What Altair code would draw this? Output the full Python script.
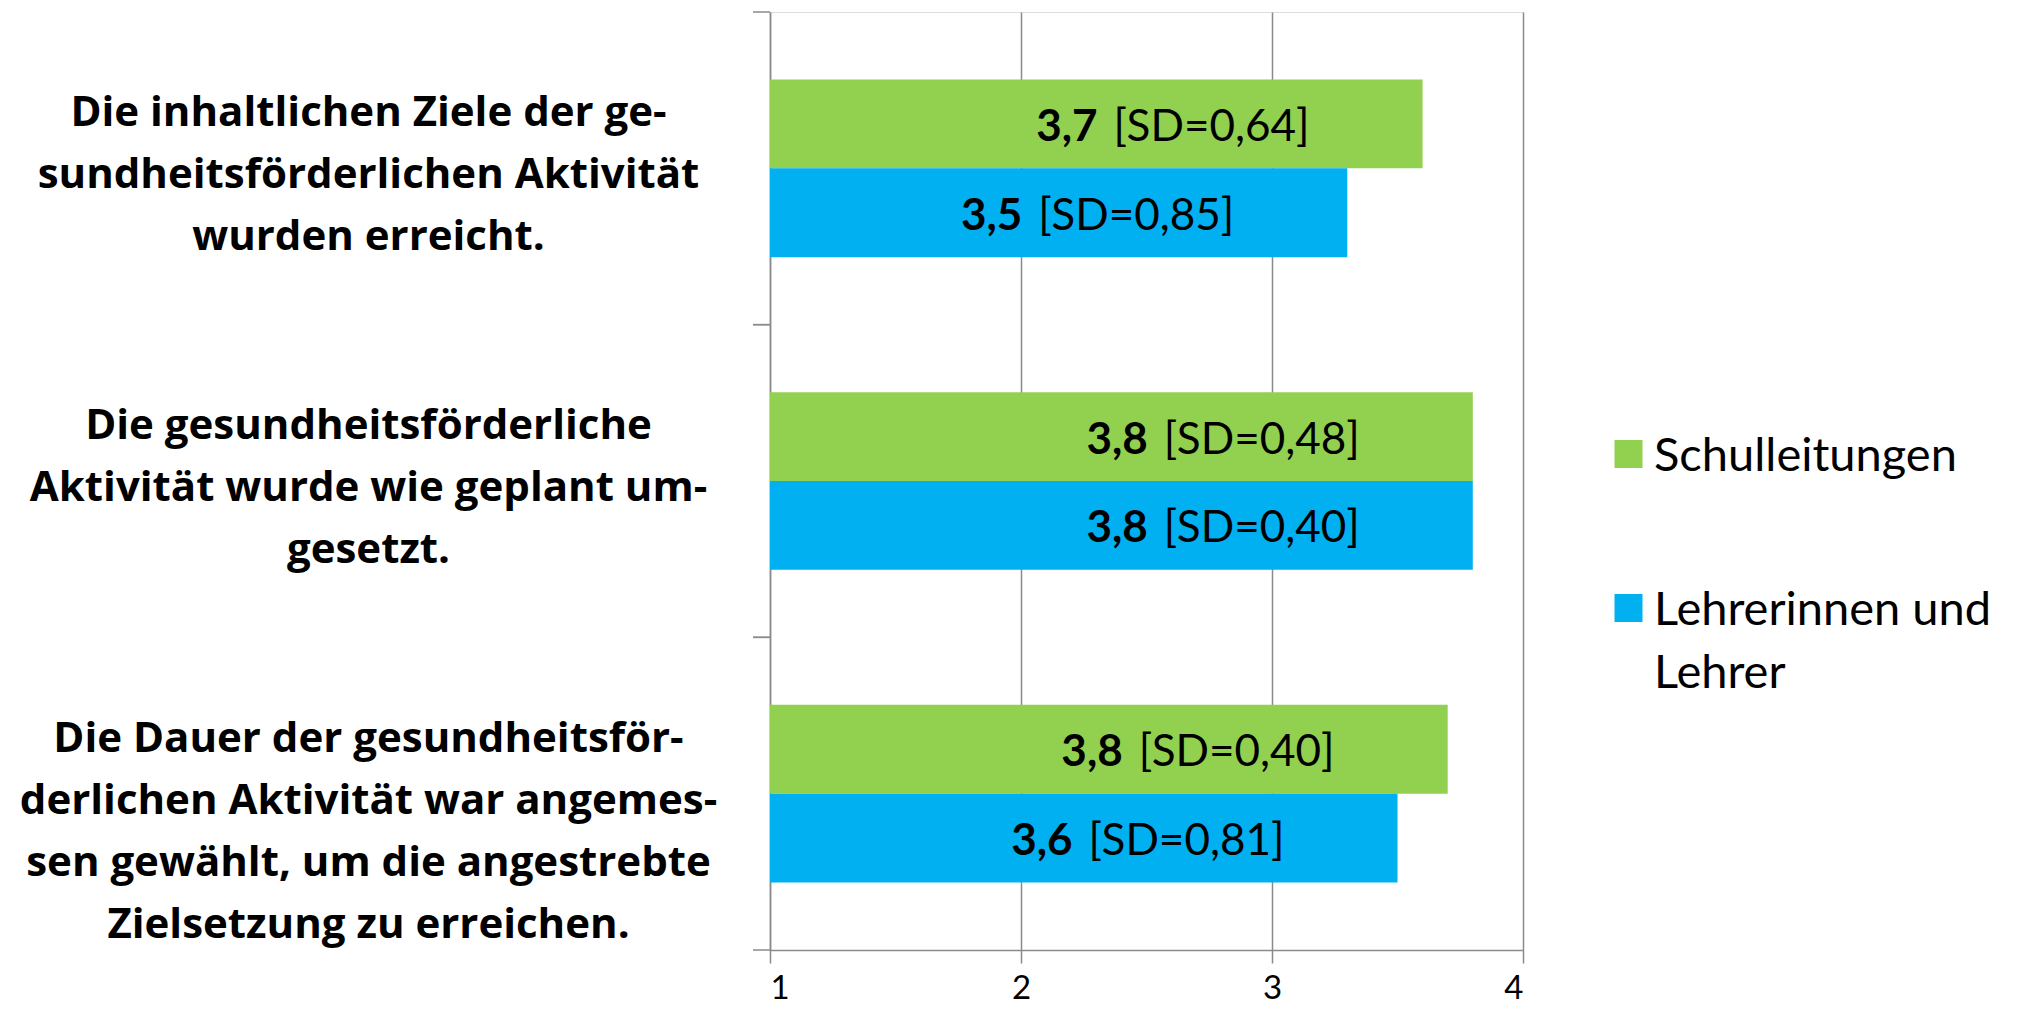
import altair as alt
import pandas as pd

categories = [
    "Die inhaltlichen Ziele der ge-|sundheitsförderlichen Aktivität|wurden erreicht.",
    "Die gesundheitsförderliche|Aktivität wurde wie geplant um-|gesetzt.",
    "Die Dauer der gesundheitsför-|derlichen Aktivität war angemes-|sen gewählt, um die angestrebte|Zielsetzung zu erreichen.",
]
series = ["Schulleitungen", "Lehrerinnen und Lehrer"]
colors = ["#92D050", "#00B0F0"]

bar_schulleitungen = [3.6, 3.8, 3.7]
bar_lehrer = [3.3, 3.8, 3.5]
mean_schulleitungen = ["3,7", "3,8", "3,8"]
sd_schulleitungen = ["[SD=0,64]", "[SD=0,48]", "[SD=0,40]"]
mean_lehrer = ["3,5", "3,8", "3,6"]
sd_lehrer = ["[SD=0,85]", "[SD=0,40]", "[SD=0,81]"]
x_ticks = [1, 2, 3, 4]

rows = []
for i, c in enumerate(categories):
    rows.append({"cat": c, "series": series[0], "value": bar_schulleitungen[i],
                 "mean": mean_schulleitungen[i], "sd": sd_schulleitungen[i]})
    rows.append({"cat": c, "series": series[1], "value": bar_lehrer[i],
                 "mean": mean_lehrer[i], "sd": sd_lehrer[i]})
df = pd.DataFrame(rows)
cat_df = pd.DataFrame({"cat": categories})

GRAY = "#8a8a8a"
FONT = "Lato"

x_enc = alt.X(
    "value:Q",
    scale=alt.Scale(domain=[1, 4], zero=False, nice=False),
    axis=alt.Axis(
        values=x_ticks, format="d", title=None, grid=True, gridColor=GRAY, gridWidth=1.5,
        domainColor=GRAY, domainWidth=1.5, tickColor=GRAY, tickWidth=1.5, tickSize=13,
        labelFont=FONT, labelFontSize=33, labelPadding=9, labelColor="black",
    ),
)
y_scale = alt.Scale(paddingInner=0, paddingOuter=0)
y_axis = alt.Axis(
    title=None, grid=False, ticks=False, tickSize=0,
    domainColor=GRAY, domainWidth=1.5,
    labelExpr="split(datum.label, '|')", labelAlign="center", labelBaseline="top",
    labelFont="Open Sans", labelFontWeight="bold", labelFontSize=42, labelLineHeight=62,
    labelPadding=402, labelLimit=1000, labelColor="black", labelOffset=-75,
)
y_enc = alt.Y("cat:N", sort=categories, scale=y_scale, axis=y_axis)
yoff_enc = alt.YOffset("series:N", sort=series, scale=alt.Scale(paddingInner=0, paddingOuter=0.76))

base = alt.Chart(df)

bars = base.mark_bar().encode(
    x=x_enc,
    x2=alt.datum(1),
    y=y_enc,
    yOffset=yoff_enc,
    color=alt.Color(
        "series:N",
        sort=series,
        scale=alt.Scale(domain=series, range=colors),
        legend=alt.Legend(
            title=None, orient="none", legendX=835, legendY=435,
            symbolType="M-1,-2.18H1V-0.18H-1Z", symbolSize=784, symbolStrokeWidth=0,
            symbolOpacity=1,
            labelFont=FONT, labelFontSize=47, labelBaseline="alphabetic",
            labelExpr="datum.label == 'Lehrerinnen und Lehrer' ? ['Lehrerinnen und', 'Lehrer'] : datum.label",
            labelLimit=600, labelOffset=2, rowPadding=106, padding=0, labelColor="black",
        ),
    ),
)

mean_text = base.mark_text(
    align="right", baseline="middle", dx=-325, dy=4, font=FONT, fontSize=44,
    fontWeight="bold", color="black",
).encode(x=x_enc, y=y_enc, yOffset=yoff_enc, text="mean:N")

sd_text = base.mark_text(
    align="left", baseline="middle", dx=-309, dy=4, font=FONT, fontSize=44,
    fontWeight="normal", color="black",
).encode(x=x_enc, y=y_enc, yOffset=yoff_enc, text="sd:N")

tick_top = alt.Chart(cat_df).mark_rule(color=GRAY, strokeWidth=1.5).encode(
    y=alt.Y("cat:N", sort=categories, scale=y_scale, axis=y_axis, bandPosition=0),
    x=alt.value(-17), x2=alt.value(0),
)
tick_bottom = alt.Chart(cat_df).mark_rule(color=GRAY, strokeWidth=1.5).encode(
    y=alt.Y("cat:N", sort=categories, scale=y_scale, axis=y_axis, bandPosition=1),
    x=alt.value(-17), x2=alt.value(0),
)

chart = alt.layer(bars, mean_text, sd_text, tick_top, tick_bottom).properties(
    width=753,
    height=938,
    padding={"left": 762, "top": 4, "right": 480, "bottom": 58},
    autosize=alt.AutoSizeParams(type="none"),
).configure_view(stroke=None).configure(style={"guide-label": {"lineHeight": 63}})

chart.save("out.html", embed_options={"renderer": "svg", "actions": False})
